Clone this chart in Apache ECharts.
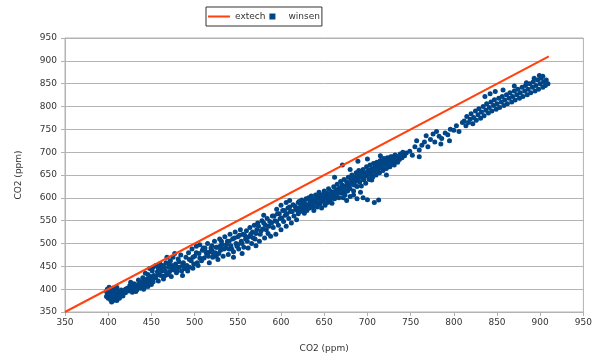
<!DOCTYPE html>
<html>
<head>
<meta charset="utf-8">
<script src="https://cdn.jsdelivr.net/npm/echarts@6/dist/echarts.min.js"></script>
<style>
  html, body { margin: 0; padding: 0; background: #fff; }
  #main { width: 595px; height: 358px; }
</style>
</head>
<body>
<div id="main"></div>
<script>
// axis ticks (ppm)
var axisMin = 350
var axisMax = 950
var axisStep = 50

// reference meter: y = x
var extech = [[350, 350], [910, 910]]

// winsen readings
var winsenStart = [
  [398,395],[399,400],[400,392],[401,385],[402,398],[400,380],[403,376],[404,390],[405,402],[406,384],
  [407,395],[408,378],[409,388],[410,398],[401,404],[399,388],[402,381],[404,372],[406,375],[408,400],
  [411,382],[412,392],[403,394],[405,386],[407,380],[409,395],[410,375],[412,386],[414,390],[415,398],
  [413,380],[416,392],[418,396],[417,385],[420,400],[398,384],[400,398],[405,396],[410,404],[402,388]
]
var winsenLow = [
  [420,392],[422,402],[424,396],[425,408],[427,400],[428,393],[430,404],[431,410],[433,398],[434,406],
  [436,412],[437,402],[439,408],[440,415],[441,400],[443,410],[444,418],[446,406],[447,414],[448,420],
  [450,410],[451,424],[452,416],[425,398],[432,395],[438,415],[442,404],[445,422],[449,428],[435,420],
  [430,412],[428,405],[426,415],[440,425],[446,432],[451,440],[448,445],[443,435],[453,430],
  [452,448],[455,452],[458,446],[460,455],[462,450],
  [455,425],[457,438],[458,418],[460,445],[461,430],[463,452],[464,422],[466,440],[467,458],[469,432],
  [470,448],[472,462],[473,428],[475,470],[476,442],[478,455],[479,436],[481,466],[482,448],[484,475],
  [485,440],[487,458],[488,445],[490,470],[491,452],[493,480],[494,448],[496,462],[497,488],[499,455],
  [500,472],[502,494],[503,458],[505,478],[506,497],[508,462],[509,485],[486,430],[492,440],[498,446],
  [504,452],[468,470],[477,478],[480,440],[471,438],[465,448],[474,452],
  [458,432],[462,440],[466,430],[470,455],[474,445],[478,448],[482,460],[486,452],[490,445],[494,465],
  [498,470],[502,480],[506,468],[510,490]
]
var winsenMid = [
  [511,468],[512,490],[514,476],[515,500],[517,458],[518,482],[520,495],[521,470],[523,505],[524,480],
  [526,492],[527,465],[529,510],[530,485],[532,498],[533,472],[535,515],[536,490],[538,505],[539,476],
  [541,520],[542,495],[544,510],[545,482],[547,525],[548,500],[550,515],[551,488],[553,530],[554,505],
  [556,520],[557,492],[559,510],[560,528],[562,490],[520,485],[530,495],[540,488],[550,498],[525,472],
  [545,470],[555,478],
  [563,515],[564,535],[566,500],[567,525],[569,540],[570,510],[572,530],[573,545],[575,505],[576,520],
  [578,550],[579,532],[581,512],[582,540],[584,555],[585,522],[587,548],[588,516],[590,560],[591,535],
  [593,550],[594,520],[596,565],[597,540],[599,555],[600,530],[602,572],[603,548],[605,562],[606,538],
  [608,578],[609,555],[611,570],[612,545],[614,585],[615,560],[617,575],[618,552],[620,590],[580,562],
  [595,575],[606,590],[610,594],[600,584],[571,495],
  [513,482],[516,472],[519,490],[522,476],[525,492],[528,478],[531,505],[534,488],[537,498],[540,505],
  [543,488],[546,512],[549,494],[552,518],[555,500],[558,518],[561,505],[565,520],[568,512],[571,522],
  [574,538],[577,528],[580,545],[583,530],[586,538],[589,545],[592,560],[595,548],[598,565],[601,556],
  [604,572],[607,565],[610,580],[613,570],[616,582],[619,572]
]
var winsenBand = [
  [620,565],[620,578],[621,592],[622,570],[623,584],[624,595],[625,574],[626,588],[627,566],[628,580],
  [629,598],[630,572],[631,585],[632,600],[633,578],[634,591],[635,604],[636,582],[637,595],[638,572],
  [639,588],[640,606],[641,590],[642,580],[643,600],[644,612],[645,586],[646,598],[647,578],[648,605],
  [649,592],[650,615],[651,584],[652,600],[653,610],[654,590],[655,620],[656,604],[657,595],[658,614],
  [659,588],[660,608],[661,624],[662,598],[663,615],[664,605],[665,630],[666,612],[667,600],[668,622],
  [669,636],[670,610],[671,628],[672,618],[673,640],[674,606],[675,625],[676,635],[677,615],[678,645],
  [679,628],[680,620],[681,640],[682,650],[683,630],[684,615],[685,645],[686,636],[687,655],[688,625],
  [689,642],[690,660],[691,634],[692,650],[693,626],[694,645],[695,662],[696,640],[697,655],[698,632],
  [699,668],[700,648],[701,660],[702,640],[703,672],[704,652],[705,664],[706,645],[707,675],[708,658],
  [709,668],[710,650],[711,678],[712,662],[713,672],[714,655],[715,682],[716,666],[717,676],[718,660],
  [719,686],[720,670],[721,680],[722,664],[723,688],[724,674],[725,684],[726,668],[727,690],[728,678],
  [730,686],[731,672],[732,694],[734,680],[735,690],[737,684],[738,696],[740,688],[741,700],[743,692],
  [745,698],
  [621,575],[623,590],[625,582],[627,592],[629,585],[631,578],[633,595],[635,588],[637,580],[639,598],
  [641,600],[643,590],[645,605],[647,596],[649,608],[651,598],[653,602],[655,596],[657,610],[659,600],
  [661,612],[663,604],[665,618],[667,612],[669,620],[671,615],[673,625],[675,615],[677,630],[679,620],
  [681,632],[683,640],[685,628],[687,640],[689,650],[691,645],[693,655],[695,640],[697,648],[699,655],
  [701,652],[703,660],[705,650],[707,662],[709,675],[711,660],[713,666],[715,672],[717,668],[719,675],
  [721,670],[723,682],[725,678],[727,675],[729,690],[731,680],[733,685],[735,678],[737,692],[739,688],
  [671,672],[689,680],[662,645],[700,685],[715,692],[680,662],
  [664,605],[672,600],[680,603],[688,598],[695,600],[700,596],[708,590],[676,594],[684,606],[705,639],
  [722,650],[692,612],[713,595]
]
var winsenHigh = [
  [749,702],[752,693],[755,712],[757,725],[760,705],[763,715],[766,722],[768,736],[770,712],[773,728],
  [776,740],[778,722],[780,745],[783,735],[786,730],[790,742],[793,738],[796,750],[800,748],[803,758],
  [806,745],[810,765],[760,690],[785,718],[795,725],
  [812,768],[814,758],[815,778],[817,765],[819,772],[820,784],[822,762],[823,776],[825,790],[826,770],
  [828,782],[829,795],[831,774],[832,788],[834,800],[835,780],[837,792],[838,806],[840,786],[841,798],
  [843,810],[844,790],[846,802],[847,815],[849,794],[850,806],[852,818],[853,798],[855,810],[856,822],
  [858,802],[859,814],[861,826],[862,806],[864,818],[865,830],[867,810],[868,822],[870,834],[871,814],
  [873,826],[874,838],[876,818],[877,830],[879,842],[880,822],[882,834],[883,846],[885,826],[886,838],
  [888,850],[889,830],[891,842],[892,854],[894,834],[895,846],[897,858],[898,838],[900,850],[901,862],
  [903,842],[904,854],[906,846],[907,858],[909,850],[899,868],[903,866],[836,822],[842,828],[848,833],
  [857,836],[870,845],[884,852],[893,862]
]

var winsen = winsenStart.concat(winsenLow, winsenMid, winsenBand, winsenHigh)

var gridColor = '#b3b3b3'
var labelStyle = { color: '#333', fontFamily: 'DejaVu Sans', fontSize: 9 }

var chart = echarts.init(document.getElementById('main'))
chart.setOption({
  animation: false,
  backgroundColor: '#fff',
  textStyle: { fontFamily: 'DejaVu Sans' },
  legend: {
    left: 206,
    top: 7,
    padding: [5, 2, 5, 2],
    itemGap: 4,
    itemWidth: 22,
    itemHeight: 6,
    borderColor: '#333',
    borderWidth: 1,
    textStyle: { color: '#333', fontFamily: 'DejaVu Sans', fontSize: 9 },
    data: [
      { name: 'extech', icon: 'path://M0,0L22,0L22,2L0,2Z' },
      { name: 'winsen', icon: 'path://M0,0L1,0L1,1L0,1Z' }
    ]
  },
  grid: {
    left: 65,
    right: 11,
    top: 38,
    bottom: 42,
    containLabel: false,
    show: true,
    borderColor: gridColor,
    borderWidth: 1
  },
  xAxis: {
    type: 'value',
    min: axisMin,
    max: axisMax,
    interval: axisStep,
    name: 'CO2 (ppm)',
    nameLocation: 'middle',
    nameGap: 32,
    nameTextStyle: labelStyle,
    axisLine: { lineStyle: { color: gridColor } },
    axisTick: { show: true, length: 4, lineStyle: { color: gridColor } },
    axisLabel: Object.assign({ margin: 6 }, labelStyle),
    splitLine: { show: false }
  },
  yAxis: {
    type: 'value',
    min: axisMin,
    max: axisMax,
    interval: axisStep,
    name: 'CO2 (ppm)',
    nameLocation: 'middle',
    nameGap: 42,
    nameTextStyle: labelStyle,
    axisLine: { show: true, lineStyle: { color: gridColor } },
    axisTick: { show: true, length: 4, lineStyle: { color: gridColor } },
    axisLabel: Object.assign({ margin: 8 }, labelStyle),
    splitLine: { show: true, lineStyle: { color: gridColor } }
  },
  series: [
    {
      name: 'extech',
      type: 'line',
      data: extech,
      symbol: 'none',
      lineStyle: { color: '#ff420e', width: 2 },
      itemStyle: { color: '#ff420e' },
      z: 3
    },
    {
      name: 'winsen',
      type: 'scatter',
      data: winsen,
      symbol: 'circle',
      symbolSize: 5,
      itemStyle: { color: '#004586', opacity: 1 },
      z: 2
    }
  ]
})
</script>
</body>
</html>
